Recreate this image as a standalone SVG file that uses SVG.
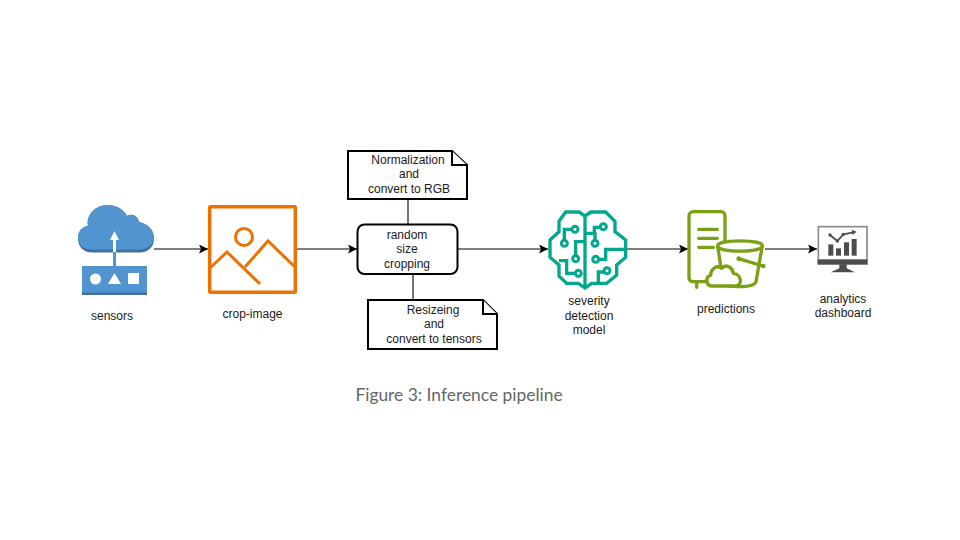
<svg xmlns="http://www.w3.org/2000/svg" width="960" height="540" viewBox="0 0 960 540">
<style>
text{font-family:"Liberation Sans",Arial,sans-serif;font-size:12px;fill:#1a1a1a;text-anchor:middle}
.cap{font-family:Lato,"Open Sans",sans-serif;font-size:17.400px;fill:#666}
.c{fill:none;stroke:#000;stroke-width:1.100}
.n{fill:#fff;stroke:#000;stroke-width:2}
.b{fill:none;stroke:#01A88D;stroke-width:10;stroke-linejoin:miter}
.bc{fill:#fff;stroke:#01A88D;stroke-width:9}
.g{fill:none;stroke:#7AA116;stroke-width:10;stroke-linecap:round;stroke-linejoin:round}
.gw{fill:#fff;stroke:#7AA116;stroke-width:10;stroke-linecap:round;stroke-linejoin:round}
</style>
<defs>
<marker id="a" markerWidth="11" markerHeight="10" refX="9" refY="4.500" orient="auto" markerUnits="userSpaceOnUse"><path d="M0 0L9 4.500L0 9L2 4.500Z" fill="#000"/></marker>
</defs>
<rect width="960" height="540" fill="#fff"/>
<g id="connectors">
<path class="c" d="M154 249H208" marker-end="url(#a)"/>
<path class="c" d="M297 249H357" marker-end="url(#a)"/>
<path class="c" d="M458 249H548" marker-end="url(#a)"/>
<path class="c" d="M625 249H688" marker-end="url(#a)"/>
<path class="c" d="M765 249H817" marker-end="url(#a)"/>
<path class="c" d="M408 199V224"/>
<path class="c" d="M413 274V300"/>
</g>
<g id="sensors">
<path d="M92 252.500C83 252.500 78 246 78 239C78 232 82 228 88 226C86 214 96 205 108 205C117 205 124 210 127 216C132 213 138 216 139 222C148 224 154 231 154 239C154 247 148 252.500 140 252.500Z" fill="#41719E"/>
<path d="M92 249.500C83 249.500 78 244 78 237C78 231 82 227 88 225.500C86 214 96 205 108 205C117 205 124 210 127 216C132 213 138 216 139 222C148 223.500 154 230 154 237C154 244 148 249.500 140 249.500Z" fill="#5294CF"/>
<path d="M82 266H147V295H82Z" fill="#41719E"/>
<path d="M82 266H147V292.500H82Z" fill="#5294CF"/>
<path d="M113 252V240H110L114.500 231L119 240H116V252Z" fill="#fff"/>
<path d="M113 252H116V266H113Z" fill="#5294CF"/>
<circle cx="95.500" cy="279" r="5.500" fill="#fff"/>
<path d="M108 284L114.500 273L121 284Z" fill="#fff"/>
<rect x="128" y="273" width="11" height="11" fill="#fff"/>
<text x="112" y="319.500">sensors</text>
</g>
<g id="crop-image">
<rect x="209.700" y="206.700" width="85.600" height="85.600" rx="1" fill="none" stroke="#ED7100" stroke-width="3.500"/>
<circle cx="244" cy="237" r="8.500" fill="none" stroke="#ED7100" stroke-width="3"/>
<path d="M210 268L227 252L260 284M245 267L268 241L296 268" fill="none" stroke="#ED7100" stroke-width="3"/>
<text x="252.500" y="317.500">crop-image</text>
</g>
<g id="note-top">
<path class="n" d="M348 151H452L467 165V199H348Z"/>
<path class="n" d="M452 151V165H467" fill="none"/>
<text x="408" y="164">Normalization</text>
<text x="409" y="178">and</text>
<text x="409" y="193">convert to RGB</text>
</g>
<g id="random-size-cropping">
<rect class="n" x="357.500" y="224.500" width="100" height="49.500" rx="7"/>
<text x="407" y="239">random</text>
<text x="407" y="253">size</text>
<text x="407" y="268">cropping</text>
</g>
<g id="note-bottom">
<path class="n" d="M368 300H483L497 314V349H368Z"/>
<path class="n" d="M483 300V314H497" fill="none"/>
<text x="433" y="314">Resizeing</text>
<text x="434" y="328">and</text>
<text x="434" y="343">convert to tensors</text>
</g>
<g id="severity-detection-model">
<g transform="translate(535 200) scale(.33333)">
<path class="b" d="M150 48L132 36H92L72 64V95L45 120V172L72 195V228L95 250H130L150 264L170 250H215L245 225V195L272 172V120L240 95V64L212 36H168Z"/>
<path class="b" d="M150 48V264"/>
<path class="b" d="M112 88H88V122M122 168V125H150M122 220H95V182H72M150 100H180V122M198 82H178V100M190 178H212V148H272M208 216H190V250"/>
<circle class="bc" cx="120" cy="88" r="9"/>
<circle class="bc" cx="88" cy="130" r="9"/>
<circle class="bc" cx="122" cy="176" r="9"/>
<circle class="bc" cx="130" cy="220" r="9"/>
<circle class="bc" cx="205" cy="80" r="9"/>
<circle class="bc" cx="180" cy="130" r="9"/>
<circle class="bc" cx="182" cy="178" r="9"/>
<circle class="bc" cx="216" cy="212" r="9"/>
</g>
<text x="589" y="305">severity</text>
<text x="589" y="320">detection</text>
<text x="589" y="334">model</text>
</g>
<g id="predictions">
<g transform="translate(680 200) scale(.33333)">
<rect class="g" x="27" y="35" width="108" height="210" rx="12"/>
<path class="g" d="M50 245V262M56 88H112M56 115H112M56 142H100"/>
<path class="gw" d="M113 137C113 118 247 118 247 137L228 245C222 264 140 264 130 250Z"/>
<path class="g" d="M113 140C125 158 235 158 247 140M176 176L248 198"/>
<circle cx="176" cy="176" r="7" fill="#7AA116"/>
<circle cx="250" cy="198" r="7" fill="#7AA116"/>
<path class="gw" d="M95 258C78 258 75 230 92 226C92 206 112 193 125 205C138 190 158 203 160 220C184 222 190 258 165 258Z"/>
</g>
<text x="726" y="313">predictions</text>
</g>
<g id="analytics-dashboard">
<g transform="translate(800 215) scale(.33333)">
<rect x="55" y="35" width="146" height="112" fill="#fff" stroke="#8a8a8a" stroke-width="5"/>
<rect x="53" y="133" width="149" height="15" fill="#4D4D4D"/>
<path d="M118 148H140V160L165 172H92L118 160Z" fill="#4D4D4D"/>
<rect x="85" y="88" width="15" height="34" fill="#4D4D4D"/>
<rect x="108" y="100" width="15" height="22" fill="#4D4D4D"/>
<rect x="132" y="82" width="15" height="40" fill="#4D4D4D"/>
<rect x="155" y="72" width="15" height="50" fill="#4D4D4D"/>
<path d="M90 60L112 78L130 58L160 52" fill="none" stroke="#4D4D4D" stroke-width="5"/>
<circle cx="90" cy="60" r="5" fill="#4D4D4D"/>
<circle cx="112" cy="78" r="5" fill="#4D4D4D"/>
<circle cx="130" cy="58" r="5" fill="#4D4D4D"/>
<path d="M155 44L170 50L158 60Z" fill="#4D4D4D"/>
</g>
<text x="843" y="303">analytics</text>
<text x="843" y="317">dashboard</text>
</g>
<text class="cap" x="459" y="400.500">Figure 3: Inference pipeline</text>
</svg>
